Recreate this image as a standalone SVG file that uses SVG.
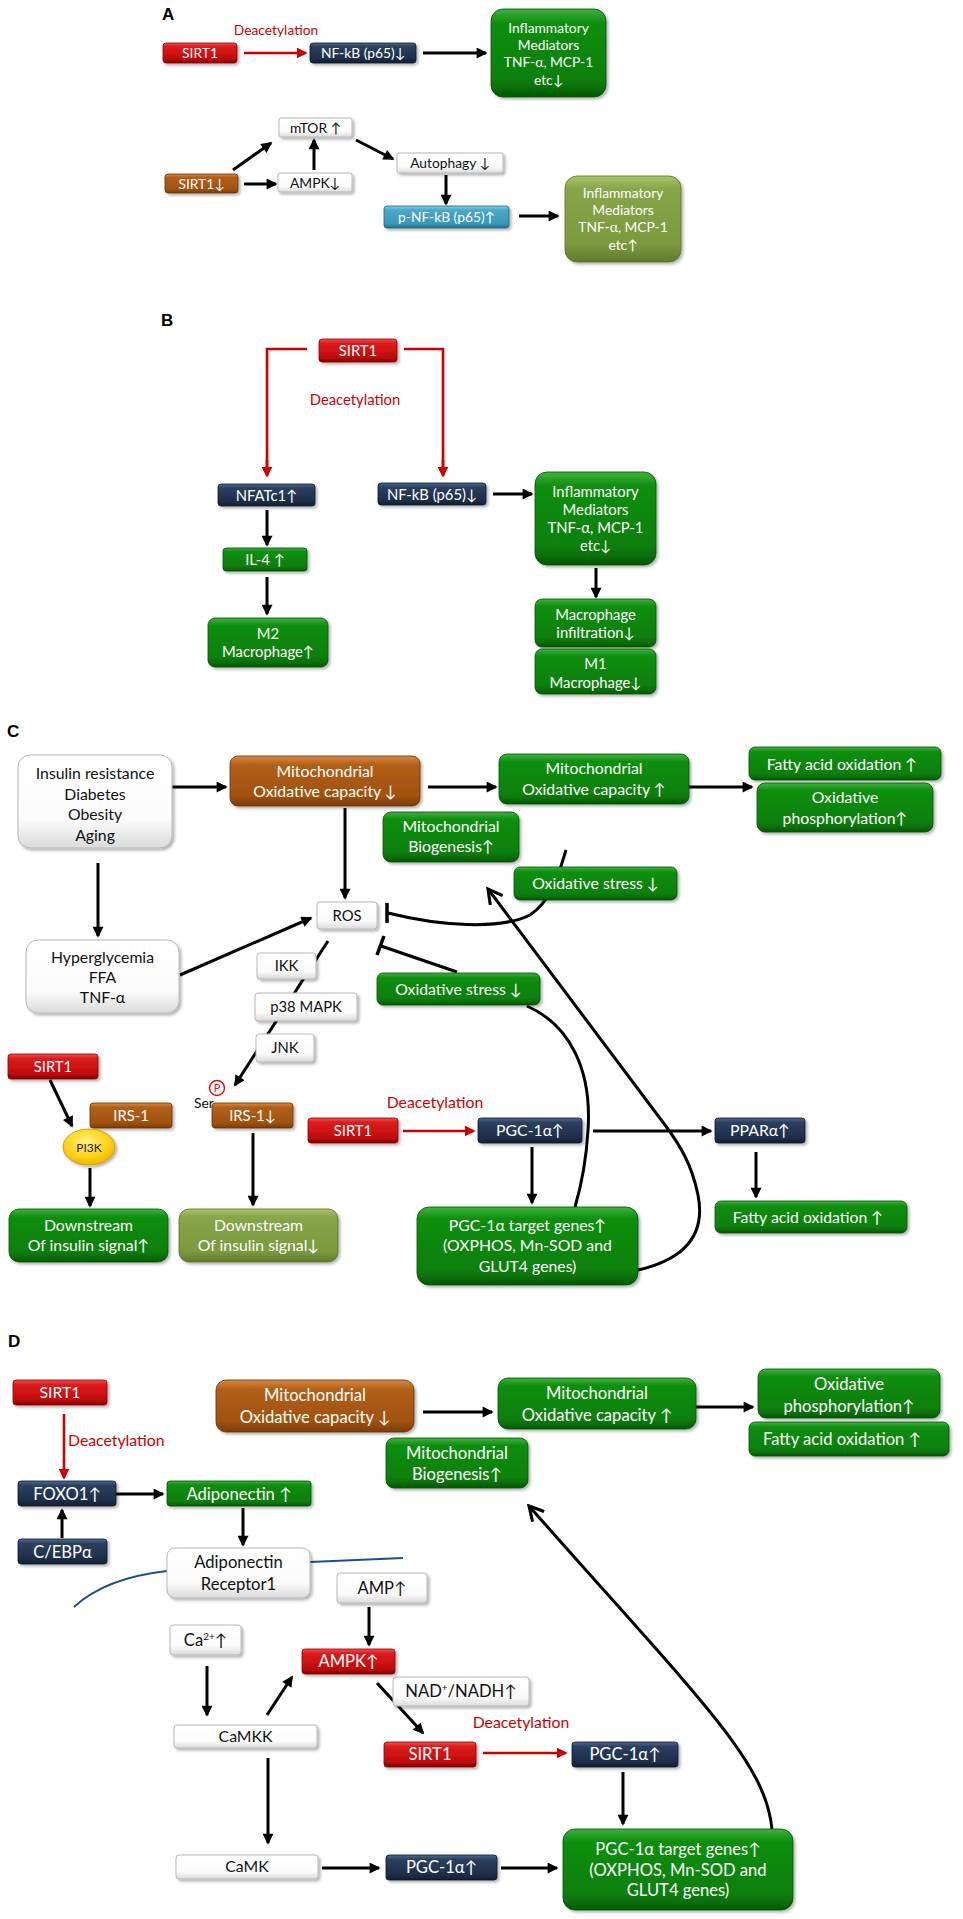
<svg xmlns="http://www.w3.org/2000/svg" width="963" height="1919" viewBox="0 0 963 1919">
<defs>
<style>
text{font-family:Lato,"Liberation Sans","DejaVu Sans",sans-serif;text-anchor:middle}
.w{fill:#fff}.k{fill:#111}.rt{fill:#cc0000}
.f12{font-size:12px}.f13{font-size:13.8px}.f14{font-size:14.8px}.f15{font-size:15.8px}.f16{font-size:16.6px}
.lbl{font-family:"Liberation Sans",Arial,sans-serif;font-weight:bold;font-size:17px;text-anchor:start;fill:#000}
.bx{filter:url(#sh)}
.red{fill:url(#gRed);stroke:#8a0000;stroke-width:.8}
.navy{fill:url(#gNavy);stroke:#101a2a;stroke-width:.8}
.grn{fill:url(#gGreen);stroke:#055005;stroke-width:.8}
.olv{fill:url(#gOlive);stroke:#5a7028;stroke-width:.8}
.brn{fill:url(#gBrown);stroke:#6a3405;stroke-width:.8}
.teal{fill:url(#gTeal);stroke:#1f6580;stroke-width:.8}
.wht{fill:url(#gWhite);stroke:#b8b8b8;stroke-width:1}
.a{stroke:#000;stroke-width:3;fill:none;marker-end:url(#ah)}
.ar{stroke:#cc0000;stroke-width:2.6;fill:none;marker-end:url(#ahr)}
.rl{stroke:#cc0000;stroke-width:2.6;fill:none}
.ln{stroke:#000;stroke-width:3;fill:none}
.ao{stroke:#000;stroke-width:3;fill:none;marker-end:url(#ao)}
.mem{stroke:#1f4e8c;stroke-width:2;fill:none}
</style>
<filter id="sh" x="-10%" y="-15%" width="125%" height="140%">
<feDropShadow dx="2" dy="2" stdDeviation="1.5" flood-color="#000" flood-opacity="0.3"/>
</filter>
<linearGradient id="gRed" x1="0" y1="0" x2="0" y2="1"><stop offset="0" stop-color="#f05050"/><stop offset=".18" stop-color="#dc1c1c"/><stop offset=".75" stop-color="#c20d0d"/><stop offset="1" stop-color="#8c0000"/></linearGradient>
<linearGradient id="gNavy" x1="0" y1="0" x2="0" y2="1"><stop offset="0" stop-color="#51688a"/><stop offset=".18" stop-color="#2b4061"/><stop offset=".8" stop-color="#1d2d47"/><stop offset="1" stop-color="#121d30"/></linearGradient>
<linearGradient id="gGreen" x1="0" y1="0" x2="0" y2="1"><stop offset="0" stop-color="#40b040"/><stop offset=".15" stop-color="#108f10"/><stop offset=".8" stop-color="#097f09"/><stop offset="1" stop-color="#055c05"/></linearGradient>
<linearGradient id="gOlive" x1="0" y1="0" x2="0" y2="1"><stop offset="0" stop-color="#a8c46a"/><stop offset=".15" stop-color="#87a649"/><stop offset=".8" stop-color="#7b9a3e"/><stop offset="1" stop-color="#5f7a2c"/></linearGradient>
<linearGradient id="gBrown" x1="0" y1="0" x2="0" y2="1"><stop offset="0" stop-color="#d68a45"/><stop offset=".18" stop-color="#b25f18"/><stop offset=".8" stop-color="#a0520f"/><stop offset="1" stop-color="#7a3c06"/></linearGradient>
<linearGradient id="gTeal" x1="0" y1="0" x2="0" y2="1"><stop offset="0" stop-color="#85cfe5"/><stop offset=".18" stop-color="#4aa8c8"/><stop offset=".8" stop-color="#3a97b8"/><stop offset="1" stop-color="#24708c"/></linearGradient>
<linearGradient id="gWhite" x1="0" y1="0" x2="0" y2="1"><stop offset="0" stop-color="#ffffff"/><stop offset=".7" stop-color="#fbfbfb"/><stop offset="1" stop-color="#dadada"/></linearGradient>
<radialGradient id="gYel" cx=".45" cy=".35" r=".7"><stop offset="0" stop-color="#fff27a"/><stop offset=".6" stop-color="#ffd21a"/><stop offset="1" stop-color="#e6b000"/></radialGradient>
<marker id="ah" viewBox="0 0 10 10" refX="8.5" refY="5" markerWidth="12" markerHeight="11" markerUnits="userSpaceOnUse" orient="auto"><path d="M0,0 L10,5 L0,10 z" fill="#000"/></marker>
<marker id="ahr" viewBox="0 0 10 10" refX="8.5" refY="5" markerWidth="11" markerHeight="11" markerUnits="userSpaceOnUse" orient="auto"><path d="M0,0 L10,5 L0,10 z" fill="#cc0000"/></marker>
<marker id="ao" viewBox="0 0 14 14" refX="12" refY="7" markerWidth="18" markerHeight="18" markerUnits="userSpaceOnUse" orient="auto"><path d="M1,1 L12,7 L1,13" fill="none" stroke="#000" stroke-width="2.4"/></marker>
</defs>
<rect width="963" height="1919" fill="#fff"/>

<!-- panel labels -->
<text class="lbl" x="162" y="20">A</text>
<text class="lbl" x="161" y="326">B</text>
<text class="lbl" x="7" y="737">C</text>
<text class="lbl" x="8" y="1347">D</text>

<!-- connectors -->
<g id="connectors">
<!-- A -->
<line class="ar" x1="244" y1="53" x2="306" y2="53"/>
<line class="a" x1="423" y1="53" x2="486" y2="53"/>
<line class="a" x1="233" y1="170" x2="271" y2="143"/>
<line class="a" x1="314" y1="170" x2="314" y2="140"/>
<line class="a" x1="356" y1="140" x2="393" y2="159"/>
<line class="a" x1="244" y1="184" x2="276" y2="184"/>
<line class="a" x1="446" y1="175" x2="446" y2="204"/>
<line class="a" x1="519" y1="216" x2="558" y2="216"/>
<!-- B -->
<path class="rl" d="M307,349 H267 V470"/>
<path class="ar" d="M267,460 V476"/>
<path class="rl" d="M404,349 H443 V470"/>
<path class="ar" d="M443,460 V476"/>
<line class="a" x1="493" y1="494" x2="532" y2="494"/>
<line class="a" x1="596" y1="568" x2="596" y2="597"/>
<line class="a" x1="267" y1="510" x2="267" y2="545"/>
<line class="a" x1="267" y1="577" x2="267" y2="614"/>
<!-- C -->
<line class="a" x1="172" y1="787" x2="226" y2="787"/>
<line class="a" x1="428" y1="787" x2="496" y2="787"/>
<line class="a" x1="689" y1="787" x2="752" y2="787"/>
<line class="a" x1="345" y1="808" x2="345" y2="898"/>
<line class="a" x1="98" y1="863" x2="98" y2="936"/>
<line class="a" x1="180" y1="975" x2="311" y2="918"/>
<path class="ln" d="M388,913 C440,926 500,930 530,915 C552,900 558,876 566,850"/>
<line class="ln" x1="387" y1="903" x2="387" y2="923" style="stroke-width:3.5"/>
<line class="ln" x1="457" y1="972" x2="381" y2="946"/>
<line class="ln" x1="384" y1="936" x2="377" y2="955" style="stroke-width:3.5"/>
<line class="a" x1="328" y1="941" x2="235" y2="1085"/>
<line class="a" x1="50" y1="1080" x2="72" y2="1126"/>
<line class="a" x1="90" y1="1168" x2="90" y2="1206"/>
<line class="a" x1="253" y1="1133" x2="253" y2="1205"/>
<line class="ar" x1="403" y1="1131" x2="474" y2="1131"/>
<line class="a" x1="593" y1="1131" x2="711" y2="1131"/>
<line class="a" x1="532" y1="1147" x2="532" y2="1203"/>
<line class="a" x1="756" y1="1152" x2="756" y2="1197"/>
<path class="ln" d="M527,1006 C570,1025 592,1070 588,1130 C586,1165 580,1190 575,1207"/>
<path class="ao" d="M638,1270 C690,1258 705,1230 698,1195 C692,1165 680,1145 665,1125 L488,889"/>
<!-- D -->
<line class="ar" x1="64" y1="1414" x2="64" y2="1478"/>
<line class="a" x1="116" y1="1494" x2="163" y2="1494"/>
<line class="a" x1="62" y1="1538" x2="62" y2="1510"/>
<line class="a" x1="243" y1="1508" x2="243" y2="1545"/>
<path class="mem" d="M74,1607 Q105,1578 167,1571"/>
<path class="mem" d="M310,1562 L403,1558"/>
<line class="a" x1="423" y1="1412" x2="492" y2="1412"/>
<line class="a" x1="696" y1="1407" x2="753" y2="1407"/>
<line class="a" x1="369" y1="1607" x2="369" y2="1645"/>
<line class="a" x1="207" y1="1666" x2="207" y2="1715"/>
<line class="a" x1="267" y1="1715" x2="292" y2="1677"/>
<line class="a" x1="377" y1="1683" x2="423" y2="1733"/>
<line class="ar" x1="483" y1="1753" x2="566" y2="1753"/>
<line class="a" x1="623" y1="1772" x2="623" y2="1824"/>
<line class="a" x1="268" y1="1758" x2="268" y2="1843"/>
<line class="a" x1="322" y1="1868" x2="379" y2="1868"/>
<line class="a" x1="501" y1="1868" x2="557" y2="1868"/>
<path class="ao" d="M772,1829 C765,1760 700,1700 529,1506"/>
</g>

<!-- red labels -->
<text class="rt f13" x="276" y="34.5">Deacetylation</text>
<text class="rt f14" x="355" y="405">Deacetylation</text>
<text class="rt f15" x="435" y="1108">Deacetylation</text>
<text class="rt f15" x="68" y="1446" style="text-anchor:start">Deacetylation</text>
<text class="rt f15" x="521" y="1728">Deacetylation</text>

<!-- Panel A nodes -->
<g id="a_sirt1"><rect class="bx red" x="163" y="43" width="74" height="20" rx="3"/><text class="w f13" x="200" y="58">SIRT1</text></g>
<g id="a_nfkb"><rect class="bx navy" x="310" y="43" width="106" height="20" rx="3"/><text class="w f13" x="363" y="58">NF-kB (p65)↓</text></g>
<g id="a_infl"><rect class="bx grn" x="491" y="9" width="115" height="88" rx="12"/><text class="w f13"><tspan x="548.5" y="33">Inflammatory</tspan><tspan x="548.5" y="50">Mediators</tspan><tspan x="548.5" y="67">TNF-α, MCP-1</tspan><tspan x="548.5" y="85">etc↓</tspan></text></g>
<g id="a_mtor"><rect class="bx wht" x="279" y="118" width="73" height="19" rx="2"/><text class="k f13" x="315.5" y="132.5">mTOR ↑</text></g>
<g id="a_autophagy"><rect class="bx wht" x="397" y="153" width="106" height="20" rx="2"/><text class="k f13" x="450" y="168">Autophagy ↓</text></g>
<g id="a_sirt1d"><rect class="bx brn" x="165" y="174" width="73" height="19" rx="3"/><text class="w f13" x="201.5" y="188.5">SIRT1↓</text></g>
<g id="a_ampk"><rect class="bx wht" x="278" y="173" width="74" height="19" rx="2"/><text class="k f13" x="315" y="187.5">AMPK↓</text></g>
<g id="a_pnfkb"><rect class="bx teal" x="384" y="206" width="125" height="22" rx="3"/><text class="w f13" x="446.5" y="222">p-NF-kB (p65)↑</text></g>
<g id="a_infl2"><rect class="bx olv" x="565" y="176" width="116" height="86" rx="12"/><text class="w f13"><tspan x="623" y="198">Inflammatory</tspan><tspan x="623" y="215">Mediators</tspan><tspan x="623" y="232">TNF-α, MCP-1</tspan><tspan x="623" y="250">etc↑</tspan></text></g>

<!-- Panel B nodes -->
<g id="b_sirt1"><rect class="bx red" x="319" y="339" width="78" height="23" rx="3"/><text class="w f14" x="358" y="355.5">SIRT1</text></g>
<g id="b_nfatc1"><rect class="bx navy" x="218" y="484" width="97" height="22" rx="3"/><text class="w f14" x="266.5" y="500.5">NFATc1↑</text></g>
<g id="b_nfkb"><rect class="bx navy" x="378" y="483" width="108" height="22" rx="3"/><text class="w f14" x="432" y="499.5">NF-kB (p65)↓</text></g>
<g id="b_infl"><rect class="bx grn" x="535" y="472" width="121" height="93" rx="12"/><text class="w f14"><tspan x="595.5" y="497">Inflammatory</tspan><tspan x="595.5" y="515">Mediators</tspan><tspan x="595.5" y="533">TNF-α, MCP-1</tspan><tspan x="595.5" y="551">etc↓</tspan></text></g>
<g id="b_macinf"><rect class="bx grn" x="535" y="599" width="121" height="48" rx="7"/><text class="w f14"><tspan x="595.5" y="620">Macrophage</tspan><tspan x="595.5" y="638">infiltration↓</tspan></text></g>
<g id="b_m1"><rect class="bx grn" x="535" y="649" width="121" height="45" rx="7"/><text class="w f14"><tspan x="595.5" y="669">M1</tspan><tspan x="595.5" y="688">Macrophage↓</tspan></text></g>
<g id="b_il4"><rect class="bx grn" x="223" y="548" width="84" height="23" rx="3"/><text class="w f14" x="265" y="565">IL-4 ↑</text></g>
<g id="b_m2"><rect class="bx grn" x="208" y="618" width="120" height="49" rx="7"/><text class="w f14"><tspan x="268" y="639">M2</tspan><tspan x="268" y="657">Macrophage↑</tspan></text></g>

<!-- Panel C nodes -->
<g id="c_insulin"><rect class="bx wht" x="18" y="755" width="154" height="93" rx="12"/><text class="k f15"><tspan x="95" y="779">Insulin resistance</tspan><tspan x="95" y="800">Diabetes</tspan><tspan x="95" y="820">Obesity</tspan><tspan x="95" y="841">Aging</tspan></text></g>
<g id="c_mito_down"><rect class="bx brn" x="230" y="756" width="190" height="50" rx="8"/><text class="w f15"><tspan x="325" y="777">Mitochondrial</tspan><tspan x="325" y="797">Oxidative capacity ↓</tspan></text></g>
<g id="c_mito_up"><rect class="bx grn" x="499" y="754" width="190" height="50" rx="8"/><text class="w f15"><tspan x="594" y="774">Mitochondrial</tspan><tspan x="594" y="795">Oxidative capacity ↑</tspan></text></g>
<g id="c_fao1"><rect class="bx grn" x="749" y="747" width="192" height="33" rx="6"/><text class="w f15" x="842" y="769.5">Fatty acid oxidation ↑</text></g>
<g id="c_oxphos"><rect class="bx grn" x="757" y="783" width="176" height="49" rx="8"/><text class="w f15"><tspan x="845" y="803">Oxidative</tspan><tspan x="845" y="824">phosphorylation↑</tspan></text></g>
<g id="c_biogen"><rect class="bx grn" x="383" y="812" width="136" height="50" rx="8"/><text class="w f15"><tspan x="451" y="832">Mitochondrial</tspan><tspan x="451" y="852">Biogenesis↑</tspan></text></g>
<g id="c_ros"><rect class="bx wht" x="317" y="902" width="60" height="27" rx="3"/><text class="k f14" x="347" y="921">ROS</text></g>
<g id="c_oxs1"><rect class="bx grn" x="514" y="867" width="163" height="33" rx="6"/><text class="w f15" x="595.5" y="889">Oxidative stress ↓</text></g>
<g id="c_hyper"><rect class="bx wht" x="26" y="940" width="153" height="73" rx="12"/><text class="k f15"><tspan x="102.5" y="963">Hyperglycemia</tspan><tspan x="102.5" y="983">FFA</tspan><tspan x="102.5" y="1003">TNF-α</tspan></text></g>
<g id="c_ikk"><rect class="bx wht" x="257" y="953" width="59" height="26" rx="3"/><text class="k f14" x="286.5" y="971">IKK</text></g>
<g id="c_p38"><rect class="bx wht" x="255" y="993" width="102" height="28" rx="3"/><text class="k f14" x="306" y="1012">p38 MAPK</text></g>
<g id="c_oxs2"><rect class="bx grn" x="377" y="973" width="163" height="32" rx="6"/><text class="w f15" x="458.5" y="995">Oxidative stress ↓</text></g>
<g id="c_jnk"><rect class="bx wht" x="256" y="1034" width="58" height="28" rx="3"/><text class="k f14" x="285" y="1053">JNK</text></g>
<g id="c_sirt1a"><rect class="bx red" x="8" y="1054" width="90" height="25" rx="3"/><text class="w f14" x="53" y="1072">SIRT1</text></g>
<g id="c_irs1"><rect class="bx brn" x="90" y="1103" width="82" height="25" rx="3"/><text class="w f14" x="131" y="1121">IRS-1</text></g>
<g id="c_pi3k"><ellipse class="bx" cx="89" cy="1147" rx="26" ry="18" fill="url(#gYel)" stroke="#d4a000" stroke-width="1"/><text class="f12" x="89" y="1151.5" fill="#222">PI3K</text></g>
<g id="c_irs1d"><rect class="bx brn" x="212" y="1103" width="81" height="25" rx="3"/><text class="w f14" x="252.5" y="1121">IRS-1↓</text></g>
<g id="c_phos"><text class="k f13" x="194" y="1108" style="text-anchor:start">Ser</text><circle cx="217" cy="1088" r="7.5" fill="#fff" stroke="#e01010" stroke-width="1.5"/><text x="217" y="1092" fill="#e01010" style="font-size:11px">P</text></g>
<g id="c_down_up"><rect class="bx grn" x="9" y="1209" width="159" height="53" rx="10"/><text class="w f15"><tspan x="88.5" y="1231">Downstream</tspan><tspan x="88.5" y="1251">Of insulin signal↑</tspan></text></g>
<g id="c_down_dn"><rect class="bx olv" x="179" y="1209" width="159" height="53" rx="10"/><text class="w f15"><tspan x="258.5" y="1231">Downstream</tspan><tspan x="258.5" y="1251">Of insulin signal↓</tspan></text></g>
<g id="c_sirt1b"><rect class="bx red" x="308" y="1118" width="90" height="25" rx="3"/><text class="w f14" x="353" y="1136">SIRT1</text></g>
<g id="c_pgc"><rect class="bx navy" x="478" y="1118" width="104" height="25" rx="3"/><text class="w f15" x="530" y="1136">PGC-1α↑</text></g>
<g id="c_ppar"><rect class="bx navy" x="715" y="1118" width="90" height="25" rx="3"/><text class="w f15" x="760" y="1136">PPARα↑</text></g>
<g id="c_target"><rect class="bx grn" x="417" y="1207" width="221" height="78" rx="12"/><text class="w f15"><tspan x="527.5" y="1231">PGC-1α target genes↑</tspan><tspan x="527.5" y="1251">(OXPHOS, Mn-SOD  and</tspan><tspan x="527.5" y="1272">GLUT4 genes)</tspan></text></g>
<g id="c_fao2"><rect class="bx grn" x="715" y="1201" width="192" height="32" rx="6"/><text class="w f15" x="808" y="1223">Fatty acid oxidation ↑</text></g>

<!-- Panel D nodes -->
<g id="d_sirt1"><rect class="bx red" x="13" y="1380" width="94" height="25" rx="3"/><text class="w f15" x="60" y="1398">SIRT1</text></g>
<g id="d_foxo1"><rect class="bx navy" x="18" y="1481" width="98" height="25" rx="3"/><text class="w f16" x="67" y="1499.5">FOXO1↑</text></g>
<g id="d_adipo"><rect class="bx grn" x="167" y="1481" width="144" height="25" rx="3"/><text class="w f16" x="239" y="1499.5">Adiponectin ↑</text></g>
<g id="d_cebpa"><rect class="bx navy" x="18" y="1539" width="89" height="25" rx="3"/><text class="w f16" x="62.5" y="1557.5">C/EBPα</text></g>
<g id="d_adiporec"><rect class="bx wht" x="167" y="1548" width="143" height="50" rx="8"/><text class="k f16"><tspan x="238.5" y="1568">Adiponectin</tspan><tspan x="238.5" y="1590">Receptor1</tspan></text></g>
<g id="d_mito_down"><rect class="bx brn" x="216" y="1380" width="198" height="52" rx="10"/><text class="w f16"><tspan x="315" y="1401">Mitochondrial</tspan><tspan x="315" y="1423">Oxidative capacity ↓</tspan></text></g>
<g id="d_mito_up"><rect class="bx grn" x="498" y="1378" width="198" height="51" rx="10"/><text class="w f16"><tspan x="597" y="1399">Mitochondrial</tspan><tspan x="597" y="1421">Oxidative capacity ↑</tspan></text></g>
<g id="d_oxphos"><rect class="bx grn" x="758" y="1369" width="182" height="49" rx="8"/><text class="w f16"><tspan x="849" y="1390">Oxidative</tspan><tspan x="849" y="1412">phosphorylation↑</tspan></text></g>
<g id="d_fao"><rect class="bx grn" x="749" y="1422" width="200" height="34" rx="6"/><text class="w f16" x="842" y="1444.5">Fatty acid oxidation ↑</text></g>
<g id="d_biogen"><rect class="bx grn" x="386" y="1438" width="142" height="50" rx="8"/><text class="w f16"><tspan x="457" y="1459">Mitochondrial</tspan><tspan x="457" y="1480">Biogenesis↑</tspan></text></g>
<g id="d_amp"><rect class="bx wht" x="337" y="1573" width="90" height="30" rx="3"/><text class="k f16" x="382" y="1594">AMP↑</text></g>
<g id="d_ca"><rect class="bx wht" x="170" y="1625" width="71" height="30" rx="3"/><text class="k f16" x="205.5" y="1646">Ca<tspan style="font-size:10px" dy="-6">2+</tspan><tspan dy="6">↑</tspan></text></g>
<g id="d_nad"><rect class="bx wht" x="393" y="1677" width="136" height="29" rx="3"/><text class="k f16" x="461" y="1697">NAD<tspan style="font-size:10px" dy="-6">+</tspan><tspan dy="6">/NADH↑</tspan></text></g>
<g id="d_ampk"><rect class="bx red" x="302" y="1649" width="93" height="25" rx="3"/><text class="w f16" x="348.5" y="1667">AMPK↑</text></g>
<g id="d_camkk"><rect class="bx wht" x="174" y="1725" width="143" height="23" rx="3"/><text class="k f15" x="245.5" y="1742">CaMKK</text></g>
<g id="d_sirt1b"><rect class="bx red" x="384" y="1742" width="92" height="25" rx="3"/><text class="w f16" x="430" y="1760">SIRT1</text></g>
<g id="d_pgc1"><rect class="bx navy" x="572" y="1742" width="106" height="25" rx="3"/><text class="w f16" x="625" y="1760">PGC-1α↑</text></g>
<g id="d_camk"><rect class="bx wht" x="176" y="1855" width="142" height="24" rx="3"/><text class="k f15" x="247" y="1872">CaMK</text></g>
<g id="d_pgc2"><rect class="bx navy" x="386" y="1855" width="111" height="25" rx="3"/><text class="w f16" x="441.5" y="1873">PGC-1α↑</text></g>
<g id="d_target"><rect class="bx grn" x="563" y="1829" width="230" height="81" rx="12"/><text class="w f16"><tspan x="678" y="1855">PGC-1α target genes↑</tspan><tspan x="678" y="1876">(OXPHOS, Mn-SOD and</tspan><tspan x="678" y="1896">GLUT4 genes)</tspan></text></g>
</svg>
